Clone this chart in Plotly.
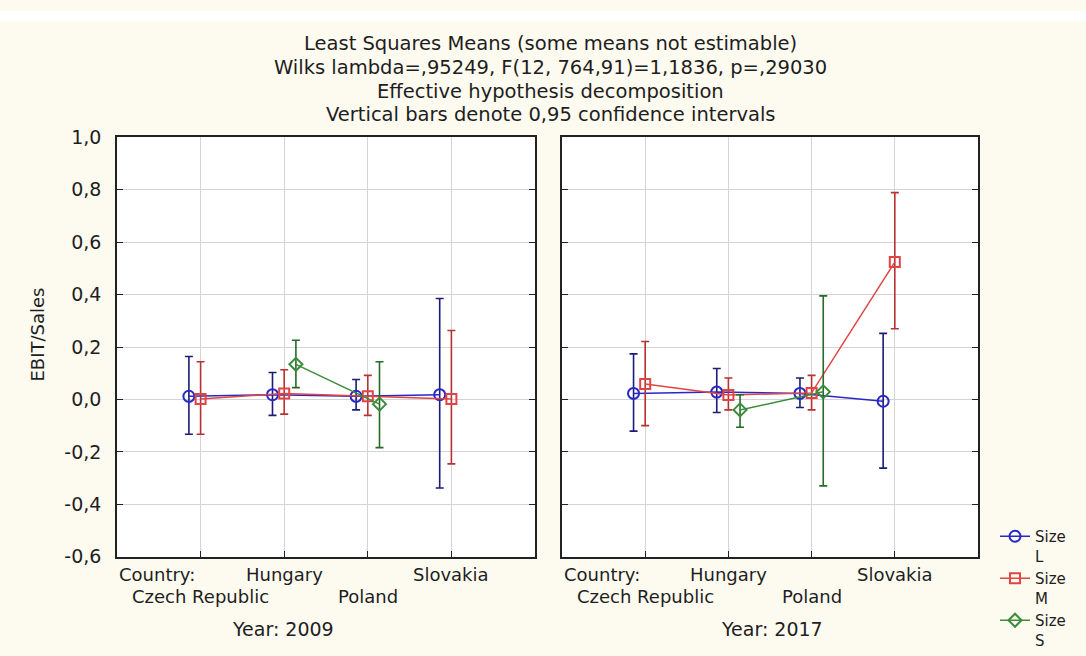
import plotly.graph_objects as go

# ---- data -------------------------------------------------------------
countries = ["Czech Republic", "Hungary", "Poland", "Slovakia"]
size_names = ["L", "M", "S"]

# Least-squares means of EBIT/Sales with 0.95 confidence bounds
mean_L_2009 = [0.012, 0.018, 0.012, 0.018]
low_L_2009 = [-0.133, -0.061, -0.040, -0.338]
high_L_2009 = [0.164, 0.103, 0.076, 0.385]

mean_M_2009 = [0.002, 0.023, 0.012, 0.002]
low_M_2009 = [-0.133, -0.056, -0.061, -0.246]
high_M_2009 = [0.144, 0.113, 0.092, 0.263]

mean_S_2009 = [None, 0.134, -0.018, None]
low_S_2009 = [None, 0.045, -0.184, None]
high_S_2009 = [None, 0.226, 0.144, None]

mean_L_2017 = [0.023, 0.028, 0.023, -0.007]
low_L_2017 = [-0.121, -0.050, -0.031, -0.262]
high_L_2017 = [0.174, 0.118, 0.082, 0.252]

mean_M_2017 = [0.059, 0.017, 0.025, 0.524]
low_M_2017 = [-0.100, -0.040, -0.040, 0.270]
high_M_2017 = [0.221, 0.082, 0.092, 0.789]

mean_S_2017 = [None, -0.040, 0.029, None]
low_S_2017 = [None, -0.106, -0.330, None]
high_S_2017 = [None, 0.018, 0.395, None]

y_ticks = [-0.6, -0.4, -0.2, 0.0, 0.2, 0.4, 0.6, 0.8, 1.0]

# ---- styling ----------------------------------------------------------
FONT = "DejaVu Sans, Arial, sans-serif"
TEXT = "#1e1e1e"
BG = "#fdfaf0"
styles = {
    "L": dict(line="#2828c8", err="#1c1c78", symbol="circle-open", size=11),
    "M": dict(line="#e04444", err="#b83232", symbol="square-open", size=10),
    "S": dict(line="#3a8c3a", err="#276a27", symbol="diamond-open", size=10),
}
offsets = {"L": -0.14, "M": 0.0, "S": 0.14}

panels = [
    ("2009", "x", "y", {"L": (mean_L_2009, low_L_2009, high_L_2009),
                        "M": (mean_M_2009, low_M_2009, high_M_2009),
                        "S": (mean_S_2009, low_S_2009, high_S_2009)}),
    ("2017", "x2", "y2", {"L": (mean_L_2017, low_L_2017, high_L_2017),
                          "M": (mean_M_2017, low_M_2017, high_M_2017),
                          "S": (mean_S_2017, low_S_2017, high_S_2017)}),
]

fig = go.Figure()

for p_idx, (year, xa, ya, series) in enumerate(panels):
    for s in size_names:
        means, lows, highs = series[s]
        st = styles[s]
        xs = [i + 1 + offsets[s] for i in range(len(countries))]
        plus = [None if m is None else h - m for m, h in zip(means, highs)]
        minus = [None if m is None else m - lo for m, lo in zip(means, lows)]
        fig.add_trace(go.Scatter(
            x=xs, y=means, xaxis=xa, yaxis=ya,
            mode="lines+markers",
            name="Size<br>" + s,
            legendgroup=s,
            showlegend=(p_idx == 0),
            line=dict(color=st["line"], width=1.5),
            marker=dict(symbol=st["symbol"], size=st["size"], color=st["line"],
                        line=dict(width=2, color=st["line"])),
            error_y=dict(type="data", symmetric=False, array=plus, arrayminus=minus,
                         color=st["err"], thickness=1.6, width=4),
            hoverinfo="skip",
        ))

W, H = 1086, 656
def px_x(v):
    return v / W
def px_y(v):
    return 1 - v / H

axis_common = dict(
    showgrid=True, gridcolor="#d4d4d4", gridwidth=1,
    zeroline=False, showline=True, linecolor="#222222", linewidth=1.5,
    ticks="inside", ticklen=6, tickcolor="#222222", tickwidth=1,
)

x_dom1 = [px_x(117), px_x(535)]
x_dom2 = [px_x(562), px_x(978)]
y_dom = [px_y(570), px_y(132)]

tick_text = [f"{v:.1f}".replace(".", ",") for v in y_ticks]

fig.update_layout(
    width=W, height=H, autosize=False,
    margin=dict(l=0, r=0, t=0, b=0),
    paper_bgcolor=BG, plot_bgcolor="white",
    font=dict(family=FONT, color=TEXT, size=16),
    xaxis=dict(domain=x_dom1, range=[0, 5], tickvals=[1, 2, 3, 4],
               showticklabels=False, mirror=True, anchor="y", **axis_common),
    xaxis2=dict(domain=x_dom2, range=[0, 5], tickvals=[1, 2, 3, 4],
                showticklabels=False, mirror=True, anchor="y2", **axis_common),
    yaxis=dict(domain=y_dom, range=[-0.6, 1.0], tickvals=y_ticks, ticktext=tick_text,
               mirror="ticks", anchor="x", ticklabelstandoff=10,
               tickfont=dict(size=19, family=FONT, color=TEXT), **axis_common),
    yaxis2=dict(domain=y_dom, range=[-0.6, 1.0], tickvals=y_ticks,
                showticklabels=False, mirror="ticks", anchor="x2", **axis_common),
    legend=dict(x=px_x(995), y=px_y(532), xanchor="left", yanchor="top",
                bgcolor="rgba(0,0,0,0)", font=dict(size=15, family=FONT, color=TEXT),
                itemwidth=30, tracegroupgap=0, valign="top"),
    showlegend=True,
)

# white strip along the top edge
fig.add_shape(type="rect", xref="paper", yref="paper", x0=0, x1=1,
              y0=px_y(11), y1=1, fillcolor="white", line=dict(width=0), layer="below")

# multi-line heading
title_lines = [
    "Least Squares Means (some means not estimable)",
    "Wilks lambda=,95249, F(12, 764,91)=1,1836, p=,29030",
    "Effective hypothesis decomposition",
    "Vertical bars denote 0,95 confidence intervals",
]
title_y = [34, 59, 84, 108]
for txt, yy in zip(title_lines, title_y):
    fig.add_annotation(text=txt, xref="paper", yref="paper", x=px_x(550), y=px_y(yy),
                       showarrow=False, font=dict(size=19.5, family=FONT, color=TEXT),
                       xanchor="center", yanchor="middle")

# y-axis title
fig.add_annotation(text="EBIT/Sales", xref="paper", yref="paper", x=px_x(38), y=px_y(338),
                   textangle=-90, showarrow=False,
                   font=dict(size=18, family=FONT, color=TEXT),
                   xanchor="center", yanchor="middle")

# staggered category labels under each panel
for year, xa, ya, _ in panels:
    fig.add_annotation(text="Country:", xref=xa, yref="paper", x=0, y=px_y(589),
                       showarrow=False, xanchor="left", yanchor="middle",
                       font=dict(size=18, family=FONT, color=TEXT))
    for i, c in enumerate(countries):
        row_y = 612 if i % 2 == 0 else 589
        fig.add_annotation(text=c, xref=xa, yref="paper", x=i + 1, y=px_y(row_y),
                           showarrow=False, xanchor="center", yanchor="middle",
                           font=dict(size=18, family=FONT, color=TEXT))

year_x = {"2009": 283, "2017": 772}
for year, _, _, _ in panels:
    fig.add_annotation(text="Year: " + year, xref="paper", yref="paper",
                       x=px_x(year_x[year]), y=px_y(646), showarrow=False,
                       xanchor="center", yanchor="middle",
                       font=dict(size=19, family=FONT, color=TEXT))

fig.write_html("out.html")
